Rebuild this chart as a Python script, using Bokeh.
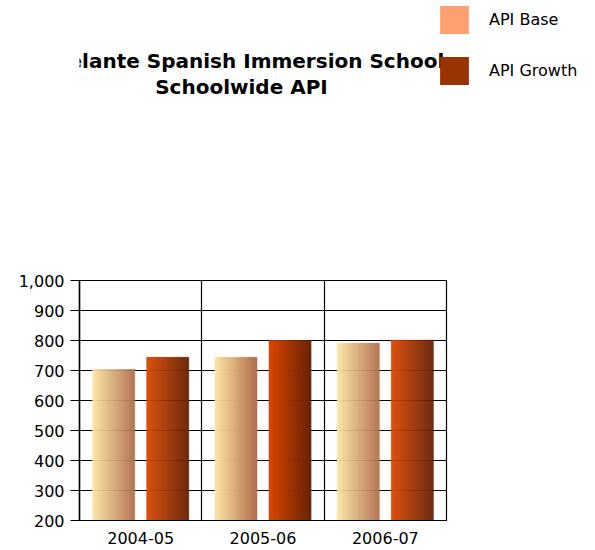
import numpy as np
from bokeh.plotting import figure
from bokeh.layouts import column
from bokeh.models import (Range1d, FixedTicker, NumeralTickFormatter, Label,
                          Legend, LegendItem)
from bokeh.embed import file_html
from bokeh.resources import INLINE

# ---- data ----
categories = ["2004-05", "2005-06", "2006-07"]
api_base = [703, 744, 791]
api_growth = [744, 800, 801]
y_ticks = [200, 300, 400, 500, 600, 700, 800, 900, 1000]
series_names = ["API Base", "API Growth"]
title_lines = ["Adelante Spanish Immersion School", "Schoolwide API"]

# ---- styles ----
FONT = "DejaVu Sans"
BAR_W = 0.344
OFFSETS = [0.279, 0.721]
BASE_GRAD = ("#FCE4A4", "#B2704E")
GROWTH_GRAD = ("#D94700", "#672100")
LEGEND_COLORS = ["#FFA070", "#993300"]
Y0 = y_ticks[0]
LEFT = 79
FRAME_W = 367
TOTAL_W = 586
TOP_H = 270

# ---------- header figure (title + legend) ----------
top = figure(frame_width=TOTAL_W - LEFT, frame_height=TOP_H,
             x_range=Range1d(0, 1), y_range=Range1d(0, 1),
             x_axis_location=None, y_axis_location=None,
             output_backend="svg", toolbar_location=None,
             min_border=0, min_border_left=LEFT)
top.grid.visible = False
top.outline_line_color = None
top.background_fill_color = "white"
top.border_fill_color = "white"

for ty, txt in zip([TOP_H - 60, TOP_H - 86], title_lines):
    top.add_layout(Label(x=241 - LEFT, y=ty, x_units="screen", y_units="screen",
                         text=txt, text_align="center",
                         text_baseline="middle", text_font=FONT,
                         text_font_style="bold", text_font_size="20px",
                         text_color="black"))

dummies = []
for c in LEGEND_COLORS:
    r = top.quad(left=[np.nan], right=[np.nan], top=[np.nan], bottom=[np.nan],
                 fill_color=c, line_color=None)
    dummies.append(r)
legend = Legend(items=[LegendItem(label=n, renderers=[r]) for n, r in zip(series_names, dummies)],
                location=(436 - LEFT, TOP_H - 88), glyph_width=36, glyph_height=35,
                label_height=35, spacing=16,
                label_standoff=17, padding=0, margin=0, border_line_color=None,
                background_fill_alpha=0, label_text_font=FONT,
                label_text_font_size="16px", label_text_baseline="top",
                label_text_color="black")
top.add_layout(legend)

# ---------- chart ----------
p = figure(frame_width=FRAME_W, frame_height=240,
           x_range=Range1d(0, len(categories)), y_range=Range1d(y_ticks[0], y_ticks[-1]),
           output_backend="svg", toolbar_location=None,
           min_border_left=LEFT, min_border_right=TOTAL_W - LEFT - FRAME_W,
           min_border_top=10, min_border_bottom=30)
p.background_fill_color = "white"
p.border_fill_color = "white"
p.outline_line_color = "black"
p.outline_line_width = 1.2


def hex2rgb(h):
    h = h.lstrip("#")
    return np.array([int(h[i:i + 2], 16) for i in (0, 2, 4)], dtype=float)


def mix(c0, c1, t):
    a, b = hex2rgb(c0), hex2rgb(c1)
    c = a + (b - a) * t
    return "#%02x%02x%02x" % tuple(int(round(v)) for v in c)


def gradient_bars(values, off, grad, n=42):
    left, right, top_, color = [], [], [], []
    for i, v in enumerate(values):
        x0 = i + off - BAR_W / 2
        for k in range(n):
            t = k / (n - 1)
            left.append(x0 + k * BAR_W / n)
            right.append(x0 + (k + 1) * BAR_W / n)
            top_.append(v)
            color.append(mix(grad[0], grad[1], t))
    p.quad(left=left, right=right, bottom=Y0, top=top_,
           fill_color=color, line_color=color, line_width=0.5)


gradient_bars(api_base, OFFSETS[0], BASE_GRAD)
gradient_bars(api_growth, OFFSETS[1], GROWTH_GRAD)

# axes
p.yaxis.ticker = FixedTicker(ticks=y_ticks)
p.yaxis.formatter = NumeralTickFormatter(format="0,0")
p.yaxis.major_tick_out = 9
p.yaxis.major_tick_in = 0
p.yaxis.minor_tick_out = 0
p.yaxis.minor_tick_in = 0
p.yaxis.major_label_standoff = 6
p.yaxis.axis_line_color = "black"
p.yaxis.axis_line_width = 1.5
p.yaxis.major_tick_line_color = "black"
p.yaxis.major_tick_line_width = 1.2
p.yaxis.major_label_text_font = FONT
p.yaxis.major_label_text_font_size = "16px"
p.yaxis.major_label_text_color = "black"

p.xaxis.ticker = FixedTicker(ticks=[i + 0.5 for i in range(len(categories))])
p.xaxis.major_label_overrides = {i + 0.5: c for i, c in enumerate(categories)}
p.xaxis.major_tick_out = 0
p.xaxis.major_tick_in = 0
p.xaxis.minor_tick_out = 0
p.xaxis.minor_tick_in = 0
p.xaxis.major_label_standoff = 11
p.xaxis.axis_line_color = "black"
p.xaxis.axis_line_width = 1.2
p.xaxis.major_label_text_font = FONT
p.xaxis.major_label_text_font_size = "16px"
p.xaxis.major_label_text_color = "black"

# grids
p.ygrid.ticker = FixedTicker(ticks=y_ticks)
p.ygrid.grid_line_color = "black"
p.ygrid.grid_line_width = 1.2
p.xgrid.ticker = FixedTicker(ticks=list(range(1, len(categories))))
p.xgrid.grid_line_color = "black"
p.xgrid.grid_line_width = 1.2

layout = column(top, p, spacing=0)
open("out.html", "w").write(file_html(layout, INLINE))
